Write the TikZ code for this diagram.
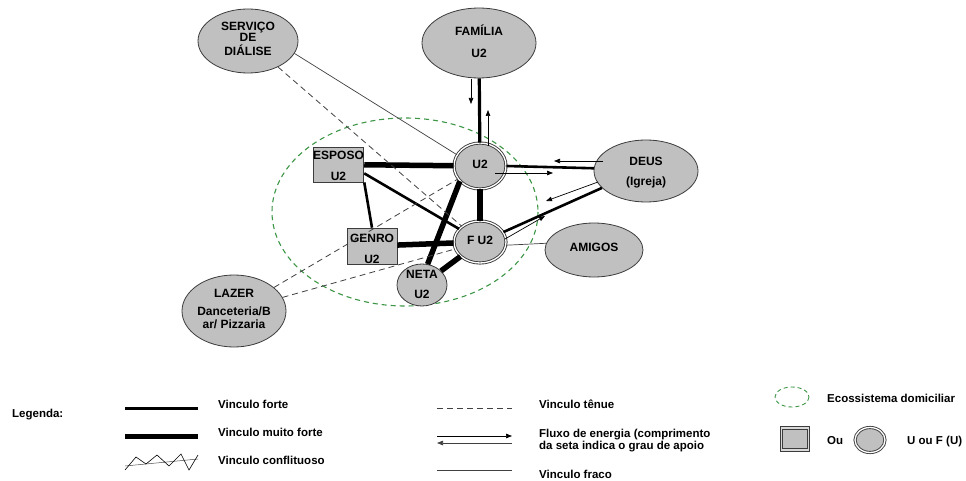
\documentclass[tikz,border=0pt]{standalone}
\usepackage{fontspec}
\setmainfont{Liberation Sans}
\usetikzlibrary{shapes.geometric,arrows.meta}
\definecolor{nodefill}{RGB}{192,192,192}
\definecolor{nodeline}{RGB}{60,60,60}
\definecolor{ecogreen}{RGB}{60,150,70}

\begin{document}
\begin{tikzpicture}[x=1pt,y=-1pt,
  every node/.style={font=\fontsize{12}{14}\selectfont\bfseries, inner sep=0pt, align=center},
  person/.style={ellipse, draw=nodeline, fill=nodefill, line width=0.8pt},
  member/.style={rectangle, draw=nodeline, fill=nodefill, line width=0.8pt},
  index/.style={ellipse, draw=nodeline, fill=nodefill, line width=0.9pt, double=white, double distance=1.3pt},
  strong/.style={line width=2.6pt},
  verystrong/.style={line width=5.5pt},
  weak/.style={line width=0.7pt, draw=black!75},
  tenuous/.style={line width=0.8pt, draw=black!75, dash pattern=on 6pt off 4pt},
  flow/.style={line width=0.7pt, -{Triangle[length=6pt,width=4.5pt]}},
  eco/.style={draw=ecogreen, line width=1.1pt, dash pattern=on 5pt off 4pt},
  legend/.style={font=\fontsize{11.5}{12}\selectfont\bfseries, anchor=west, align=left, text height=8.2pt, text depth=0pt}
]
\useasboundingbox (0,0) rectangle (966,481);

% household ecosystem boundary
\draw[eco] (405,212) ellipse [x radius=133, y radius=94];

% people and institutions
\node[person, minimum width=100pt, minimum height=64pt, text height=29.8pt, text depth=-9.8pt]
  (srv) at (248,41) {SERVIÇO\\[-3pt]DE\\DIÁLISE};
\node[person, minimum width=114pt, minimum height=70pt, text height=29.3pt, text depth=-9.3pt]
  (fam) at (479,43) {FAMÍLIA\\[8pt]U2};
\node[index, minimum width=52pt, minimum height=46pt, text height=5.6pt, text depth=1pt]
  (u2) at (480,166) {U2};
\node[index, minimum width=52pt, minimum height=42pt, text height=5.6pt, text depth=1pt]
  (fu2) at (480,242) {F U2};
\node[member, minimum width=49pt, minimum height=35pt, text height=31.3pt, text depth=-11.3pt]
  (esposo) at (338.5,164.5) {ESPOSO\\[7pt]U2};
\node[member, minimum width=50pt, minimum height=34pt, text height=35.8pt, text depth=-15.8pt]
  (genro) at (372,246) {GENRO\\[7pt]U2};
\node[person, minimum width=50pt, minimum height=42pt, text height=26.3pt, text depth=-6.3pt]
  (neta) at (422,285) {NETA\\[5.5pt]U2};
\node[person, minimum width=104pt, minimum height=62pt, text height=29.3pt, text depth=-9.3pt]
  (deus) at (646,171) {DEUS\\[6pt](Igreja)};
\node[person, minimum width=98pt, minimum height=54pt, text height=3.6pt, text depth=1pt]
  (amigos) at (594,250) {AMIGOS};
\node[person, minimum width=104pt, minimum height=72pt, text height=34.3pt, text depth=-14.3pt]
  (lazer) at (234,311) {LAZER\\[4pt]Danceteria/B\\[-1pt]ar/ Pizzaria};

% bonds
\draw[line width=3.2pt] (fam) -- (u2);
\draw[verystrong] (esposo) -- (u2);
\draw[verystrong] (u2) -- (fu2);
\draw[verystrong] (genro) -- (fu2);
\draw[verystrong] (u2.217) -- (neta.75);
\draw[verystrong] (fu2) -- (neta);
\draw[strong] (esposo.-19) -- (fu2.148);
\draw[strong] (esposo.south east) -- (genro.north);
\draw[strong] (u2.east) -- (deus.177);
\draw[strong] (fu2.23) -- (deus.201);
\draw[weak] (srv.-15) -- (u2.154);
\draw[weak] (fu2.-7) -- (amigos.172);
\draw[tenuous] (srv) -- (fu2);
\draw[tenuous] (lazer) -- (u2);
\draw[tenuous] (lazer) -- (fu2);

% energy flow
\draw[flow] (471,79) -- (471,104);
\draw[flow] (488,146) -- (488,110);
\draw[flow] (603,161) -- (554,161);
\draw[flow] (495,173) -- (553,173);
\draw[flow] (598,182) -- (546,201);
\draw[flow] (505,239) -- (545,216);

% legend
\node[legend] (legtitle) at (12,413) {Legenda:};
\draw[line width=3pt] (125,408) -- (198,408);
\node[legend] (legforte) at (218,404) {Vinculo forte};
\draw[line width=5pt] (125,436) -- (198,436);
\node[legend] (legmuito) at (218,432) {Vinculo muito forte};
\draw[line width=0.5pt, black!70] (125,466) -- (198,459);
\draw[line width=0.6pt] (125,470) -- (136,457) -- (146,464) -- (157,455) -- (169,466) -- (181,454) -- (189,470) -- (198,455);
\node[legend] (legconf) at (218,460) {Vinculo conflituoso};

\draw[tenuous] (437,408) -- (512,408);
\node[legend] (legtenue) at (539,404) {Vinculo tênue};
\draw[flow] (437,436) -- (512,436);
\draw[flow, black!75] (512,443) -- (437,443);
\node[legend, text height=20.2pt, text depth=0pt] (legfluxo) at (539,439) {Fluxo de energia (comprimento\\da seta indica o grau de apoio};
\draw[weak] (437,470) -- (512,470);
\node[legend] (legfraco) at (539,474) {Vinculo fraco};

\draw[eco, line width=0.9pt, dash pattern=on 4pt off 3pt] (792,397) ellipse [x radius=17, y radius=10];
\node[legend] (legeco) at (827,398) {Ecossistema domiciliar};
\node[member, line width=1pt, double=white!85!black, double distance=1.6pt, minimum width=27pt, minimum height=22pt]
  (legbox) at (795,439) {};
\node[legend] (legou) at (827,440) {Ou};
\node[index, minimum width=30pt, minimum height=25pt] (legcirc) at (870,440) {};
\node[legend] (legunit) at (907,440) {U ou F (U)};
\end{tikzpicture}
\end{document}
